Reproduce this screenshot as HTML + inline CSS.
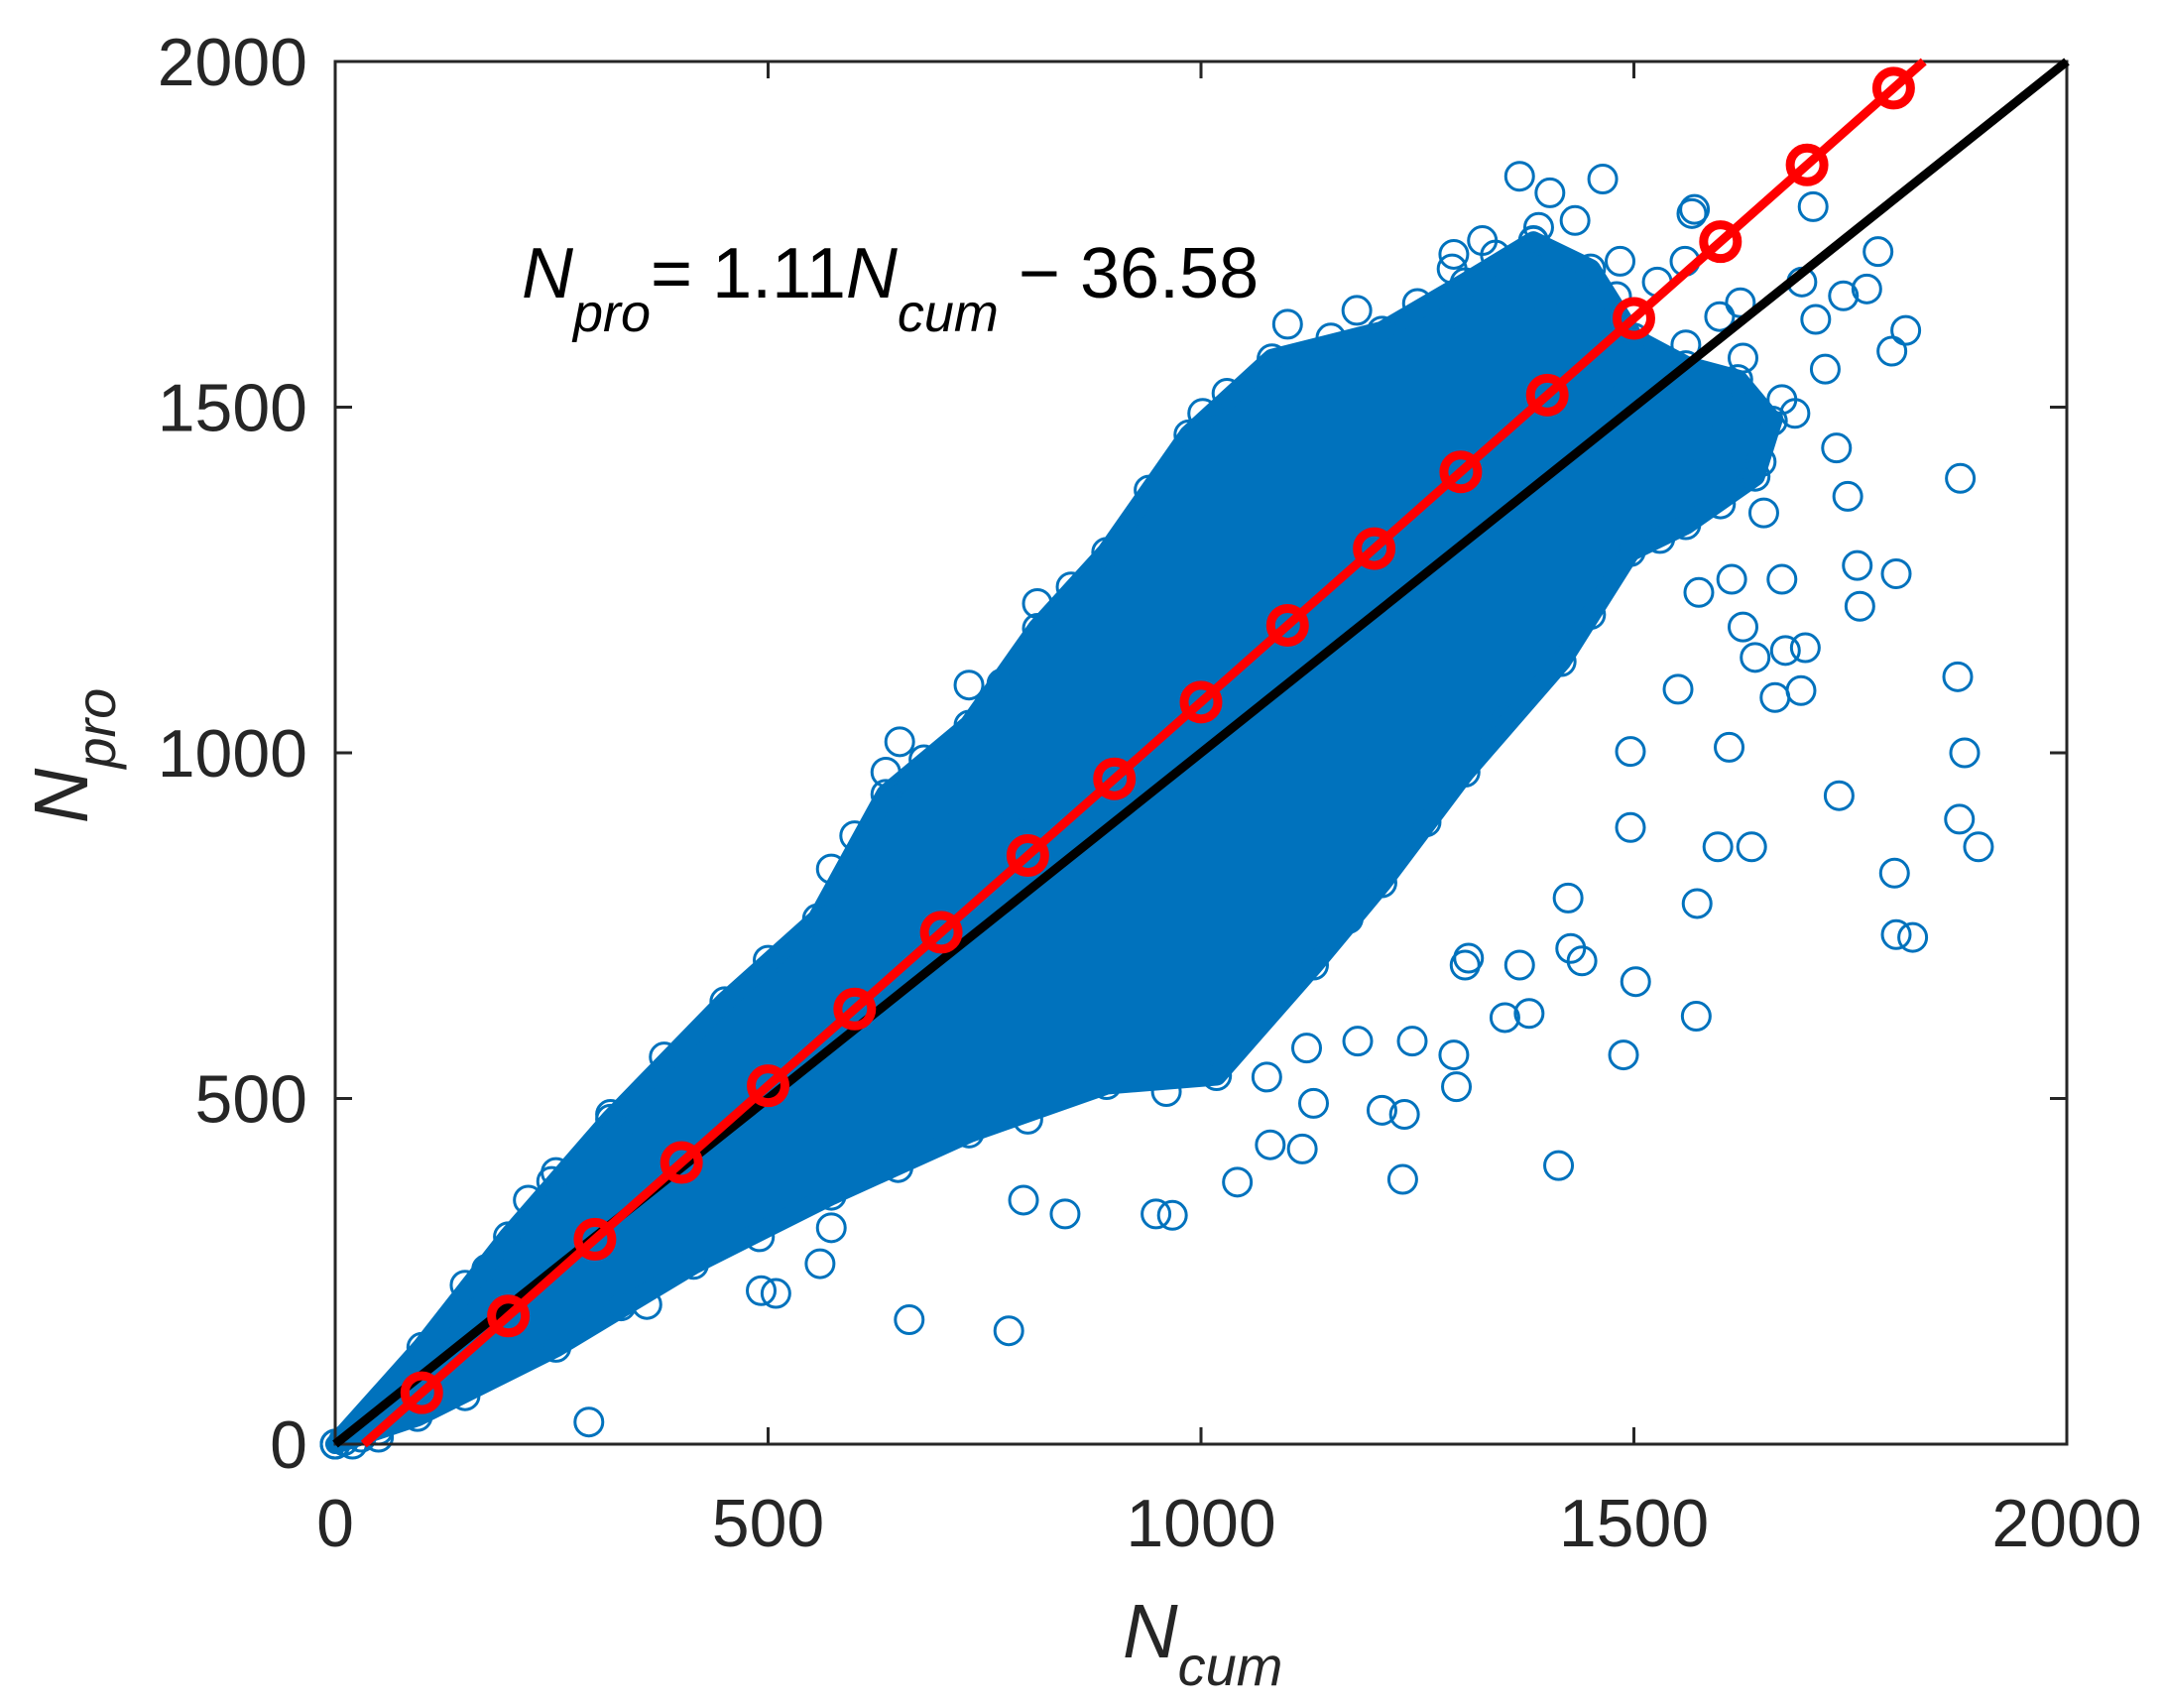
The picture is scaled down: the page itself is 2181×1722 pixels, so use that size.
<!DOCTYPE html>
<html><head><meta charset="utf-8"><style>
html,body{margin:0;padding:0;background:#fff}
svg{display:block}
text{font-family:"Liberation Sans",Arial,sans-serif;fill:#262626}
</style></head><body>
<svg id="chart" width="2181" height="1722" viewBox="0 0 2181 1722" xmlns="http://www.w3.org/2000/svg">
<rect width="2181" height="1722" fill="#fff"/>
<g id="cloud"></g>
<g id="pts"></g>
<g id="axes"></g>
<g id="lines"></g>
<text x="526" y="300" font-size="72" style="fill:#000"><tspan font-style="italic">N</tspan><tspan font-style="italic" font-size="54" dy="34">pro</tspan><tspan dy="-34">= 1.11</tspan><tspan font-style="italic">N</tspan><tspan font-style="italic" font-size="54" dy="34">cum</tspan><tspan dy="-34"> − 36.58</tspan></text>
<text x="1132" y="1671" font-size="77" font-style="italic"><tspan>N</tspan><tspan font-size="56" dy="28">cum</tspan></text>
<text transform="translate(88,762) rotate(-90)" font-size="77" font-style="italic" text-anchor="middle"><tspan>N</tspan><tspan font-size="56" dy="28">pro</tspan></text>
</svg>
<script>
const xTicks=[0,500,1000,1500,2000];
const yTicks=[0,500,1000,1500,2000];
const upperX=[0,100,200,318,450,557,636,732,811,891,986,1082,1209,1305,1384,1450,1500,1560,1620,1660];
const upperY=[0,140,300,470,640,760,940,1040,1180,1290,1460,1570,1610,1680,1740,1700,1600,1560,1540,1480];
const lowerX=[1640,1560,1496,1416,1305,1209,1130,1018,891,732,573,414,255,95,0];
const lowerY=[1400,1330,1291,1132,972,812,693,533,520,450,360,260,140,40,0];
const edgeX=[150,250,380,500,600,680,770,850,940,1030,1150,1250,1340,1420,50,150,330,490,650,800,960,1070,1170,1260,1350,1450,1530,1600,1100,1180,1290,1390,1480,1560,1620];
const edgeY=[230,380,560,700,880,990,1100,1240,1380,1520,1600,1650,1720,1680,10,70,200,300,400,470,510,620,760,900,1050,1200,1310,1360,1620,1640,1700,1760,1660,1590,1500];
const outX=[1877,1803,1874,1882,1898,1876,1801,1803,1822,1737,1693,1663,1640,1610,1636,1573,1597,1572,1502,1488,1413,1424,1427,1440,1379,1351,1292,1295,1233,1209,1181,1130,1117,1080,1042,967,948,1076,1122,1235,1244,1305,1368,1309,778,663,492,509,293,409,560,573,360,1488,1567,1626,1710,1721,1734,1747,1694,1761,1698,1675,1626,1613,1559,1575,1551,1496,1496,1742,1782,1798,1814,1769,1650,1758,1671,1368,1403,1432,1464,1570,1484,1325,1292,1384,1400,1278,1707,1527,1559,1599,1623,1671,1686,1647,1591,732,636,652,573,716,811,827,1002,1018,780,700,318,326,255,223,135,95,175,843,795,0,10,20,30,50];
const outY=[1397,1259,1110,1000,864,904,826,737,733,938,1090,1080,1138,1008,864,782,864,619,669,563,403,790,717,699,623,617,563,517,383,483,583,493,427,433,379,331,333,531,573,477,583,693,693,703,164,180,222,218,32,271,261,313,202,1519,1780,1571,1627,1555,1441,1371,1681,1212,1152,1148,1182,1251,1411,1232,1092,1002,892,1661,1725,1581,1611,1671,1347,1271,1251,1834,1810,1770,1830,1786,1711,1741,1721,1741,1631,1601,1790,1681,1711,1631,1651,1511,1491,1421,1491,1098,972,1016,832,1012,1216,1172,1491,1471,892,892,477,453,393,353,154,94,253,333,353,0,5,0,10,20];
const fitX=[100,200,300,400,500,600,700,800,900,1000,1100,1200,1300,1400,1500,1600,1700,1800];
const slope=1.11, intercept=-36.58;
const X0=338,X1=2084,Y0=1456,Y1=62;
const sx=v=>X0+(v-0)/(2000)*(X1-X0);
const sy=v=>Y0-(v-0)/(2000)*(Y0-Y1);
const NS="http://www.w3.org/2000/svg";
function mk(tag,parent,attrs){const e=document.createElementNS(NS,tag);for(const k in attrs)e.setAttribute(k,attrs[k]);parent.appendChild(e);return e;}
const BLUE="#0072BD";
const cloud=document.getElementById('cloud');
let d=[];
upperX.forEach((x,i)=>d.push(sx(x)+','+sy(upperY[i])));
lowerX.forEach((x,i)=>d.push(sx(x)+','+sy(lowerY[i])));
const poly=mk('polygon',cloud,{points:d.join(' '),fill:BLUE,stroke:BLUE,'stroke-width':20,'stroke-linejoin':'round'});


const pts=document.getElementById('pts');
function dot(x,y){
  const c=mk('circle',pts,{cx:sx(x),cy:sy(y),r:14,fill:'none',stroke:BLUE,'stroke-width':3});
  
  
}
upperX.forEach((x,i)=>dot(x,upperY[i]));
lowerX.forEach((x,i)=>dot(x,lowerY[i]));
edgeX.forEach((x,i)=>dot(x,edgeY[i]));
outX.forEach((x,i)=>dot(x,outY[i]));
const ax=document.getElementById('axes');
const box=mk('rect',ax,{x:X0,y:Y1,width:X1-X0,height:Y0-Y1,fill:'none',stroke:'#262626','stroke-width':3});


xTicks.forEach(v=>{
  mk('line',ax,{x1:sx(v),x2:sx(v),y1:Y0,y2:Y0-17,stroke:'#262626','stroke-width':3});
  mk('line',ax,{x1:sx(v),x2:sx(v),y1:Y1,y2:Y1+17,stroke:'#262626','stroke-width':3});
  const t=mk('text',ax,{x:sx(v),y:1559,'font-size':68,'text-anchor':'middle'});
  t.textContent=v;
  
  
});
yTicks.forEach(v=>{
  mk('line',ax,{x1:X0,x2:X0+17,y1:sy(v),y2:sy(v),stroke:'#262626','stroke-width':3});
  mk('line',ax,{x1:X1,x2:X1-17,y1:sy(v),y2:sy(v),stroke:'#262626','stroke-width':3});
  const t=mk('text',ax,{x:310,y:sy(v)+24,'font-size':68,'text-anchor':'end'});
  t.textContent=v;
  
  
});
const ln=document.getElementById('lines');
const ref=mk('line',ln,{x1:sx(0),y1:sy(0),x2:sx(2000),y2:sy(2000),stroke:'#000','stroke-width':9});


const xs=-intercept/slope, xe=(2000-intercept)/slope;
const fit=mk('line',ln,{x1:sx(xs),y1:sy(0),x2:sx(xe),y2:sy(2000),stroke:'#ff0000','stroke-width':9});


fitX.forEach(x=>{
  const c=mk('circle',ln,{cx:sx(x),cy:sy(slope*x+intercept),r:17,fill:'none',stroke:'#ff0000','stroke-width':9});
  
  
});
</script>
</body></html>
